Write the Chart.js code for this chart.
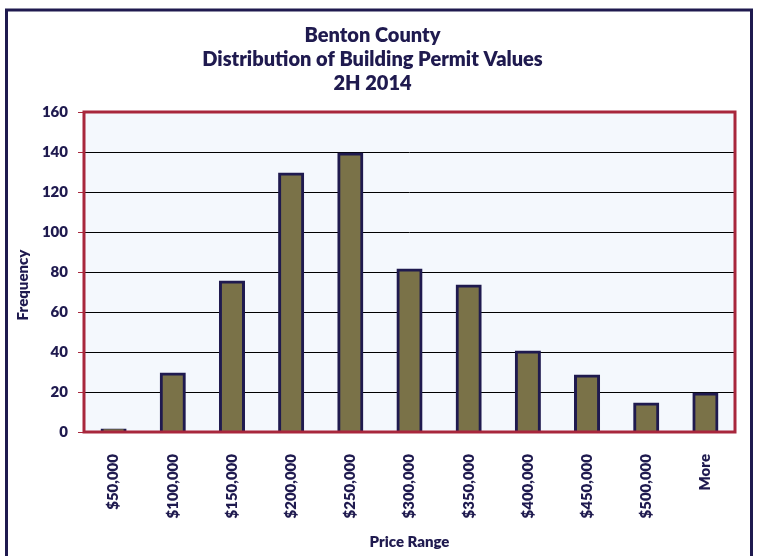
<!DOCTYPE html>
<html>
<head>
<meta charset="utf-8">
<script src="https://cdn.jsdelivr.net/npm/chart.js@4"></script>
<style>
  html, body { margin: 0; padding: 0; background: #ffffff; }
  #wrap { width: 759px; height: 556px; position: relative; }
</style>
</head>
<body>
<div id="wrap"><canvas id="c" width="759" height="556"></canvas></div>
<script>
const categories = ["$50,000", "$100,000", "$150,000", "$200,000", "$250,000", "$300,000", "$350,000", "$400,000", "$450,000", "$500,000", "More"];
const frequency = [1, 29, 75, 129, 139, 81, 73, 40, 28, 14, 19];
const titleLines = ["Benton County", "Distribution of Building Permit Values", "2H 2014"];
const yAxisTitle = "Frequency";
const xAxisTitle = "Price Range";

const NAVY = "#1f1a4f";
const CRIMSON = "#a8273c";
const W = "800";

const framePlugin = {
  id: "frame",
  beforeDraw(chart) {
    const ctx = chart.ctx;
    const a = chart.chartArea;
    ctx.save();
    ctx.fillStyle = "#ffffff";
    ctx.fillRect(0, 0, chart.width, chart.height);
    ctx.strokeStyle = NAVY;
    ctx.lineWidth = 3;
    ctx.strokeRect(6.5, 10, 745, 600);
    ctx.fillStyle = "#f4f8fd";
    ctx.fillRect(a.left, a.top, a.right - a.left, a.bottom - a.top);
    ctx.restore();
  },
  afterDatasetsDraw(chart) {
    const ctx = chart.ctx;
    const a = chart.chartArea;
    ctx.save();
    ctx.strokeStyle = CRIMSON;
    ctx.lineWidth = 3;
    ctx.strokeRect(a.left, a.top, a.right - a.left, a.bottom - a.top);
    ctx.restore();
  },
  afterDraw(chart) {
    const ctx = chart.ctx;
    ctx.save();
    ctx.translate(23, 285);
    ctx.rotate(-Math.PI / 2);
    ctx.fillStyle = NAVY;
    ctx.font = W + " 15px Lato";
    ctx.textAlign = "center";
    ctx.textBaseline = "middle";
    ctx.fillText(yAxisTitle, 0, 0);
    ctx.restore();
  }
};

new Chart(document.getElementById("c"), {
  type: "bar",
  data: {
    labels: categories,
    datasets: [{
      label: "Frequency",
      data: frequency,
      backgroundColor: "#7a7248",
      borderColor: NAVY,
      borderWidth: 3,
      inflateAmount: 1.5,
      categoryPercentage: 1,
      barPercentage: 0.39
    }]
  },
  options: {
    responsive: false,
    animation: false,
    devicePixelRatio: 1,
    layout: { padding: { left: 10, right: 24, top: 0, bottom: 0 } },
    plugins: {
      legend: { display: false },
      tooltip: { enabled: false },
      title: {
        display: true,
        text: titleLines,
        color: NAVY,
        font: { family: "Lato", size: 20, weight: W, lineHeight: 1.2 },
        padding: { top: 24, bottom: 16 }
      }
    },
    scales: {
      x: {
        grid: { display: false },
        border: { display: false },
        ticks: {
          color: NAVY,
          font: { family: "Lato", size: 15, weight: W },
          minRotation: 90,
          maxRotation: 90,
          padding: 14,
          autoSkip: false
        },
        title: {
          display: true,
          text: xAxisTitle,
          color: NAVY,
          font: { family: "Lato", size: 15, weight: W },
          padding: { top: 4, bottom: 5 }
        },
        afterFit(axis) { axis.height = 124; }
      },
      y: {
        min: 0,
        max: 160,
        ticks: {
          stepSize: 20,
          color: NAVY,
          font: { family: "Lato", size: 15, weight: W },
          padding: 10
        },
        grid: {
          color: "#000000",
          lineWidth: 1,
          tickLength: 6,
          tickColor: CRIMSON
        },
        border: { display: false },
        afterFit(axis) { axis.width = 74; }
      }
    }
  },
  plugins: [framePlugin]
});
</script>
</body>
</html>
